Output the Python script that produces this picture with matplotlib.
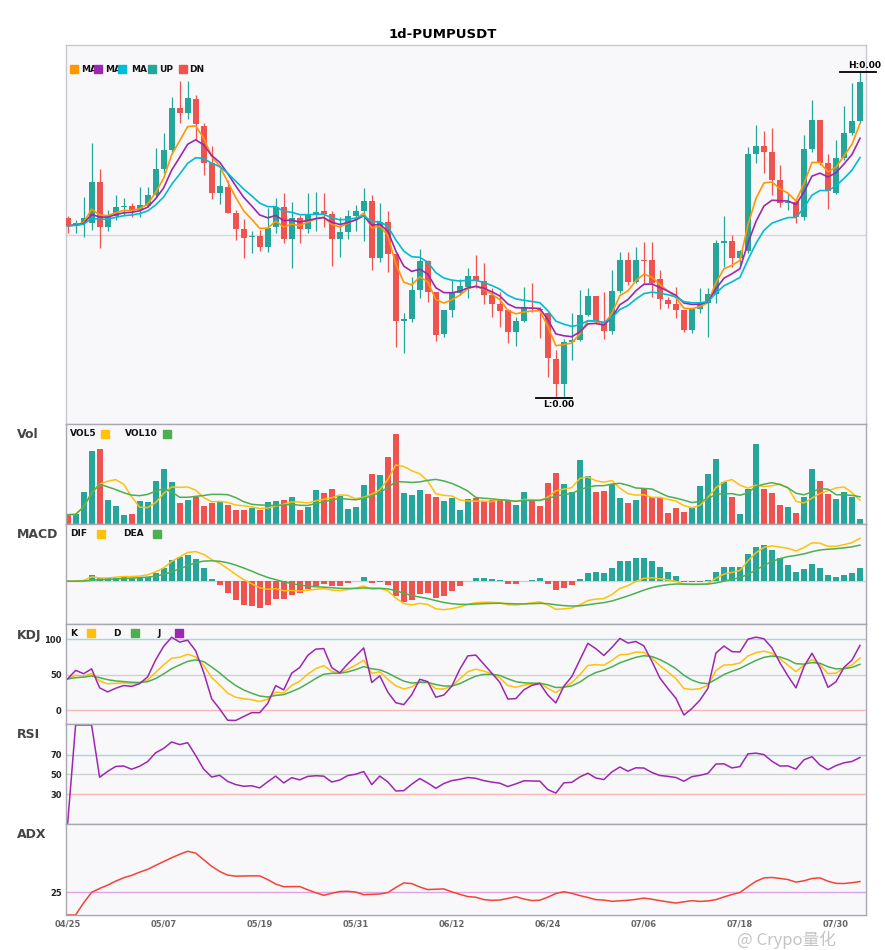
import numpy as np
import pandas as pd
import matplotlib
matplotlib.use("Agg")
import matplotlib.pyplot as plt
from matplotlib.patches import Rectangle

# ---------------- data ----------------
dates = pd.date_range("2025-04-25", periods=100, freq="D")

open_ = [0.003173, 0.003093, 0.003117, 0.003123, 0.003530, 0.003083, 0.003193, 0.003283, 0.003290, 0.003250,
         0.003293, 0.003400, 0.003660, 0.003850, 0.004270, 0.004223, 0.004360, 0.004090, 0.003717, 0.003423,
         0.003483, 0.003223, 0.003060, 0.002977, 0.002990, 0.002883, 0.003083, 0.003277, 0.002963, 0.003167,
         0.003063, 0.003207, 0.003237, 0.003210, 0.002963, 0.003030, 0.003190, 0.003240, 0.003340, 0.002773,
         0.003127, 0.002813, 0.002143, 0.002163, 0.002450, 0.002740, 0.002433, 0.002010, 0.002250, 0.002417,
         0.002483, 0.002590, 0.002540, 0.002400, 0.002310, 0.002250, 0.002033, 0.002143, 0.002267, 0.002260,
         0.002217, 0.001760, 0.001510, 0.001930, 0.001950, 0.002200, 0.002390, 0.002133, 0.002043, 0.002440,
         0.002750, 0.002533, 0.002750, 0.002750, 0.002557, 0.002350, 0.002310, 0.002250, 0.002050, 0.002257,
         0.002317, 0.002407, 0.002923, 0.002937, 0.002767, 0.002840, 0.003810, 0.003893, 0.003833, 0.003550,
         0.003323, 0.003333, 0.003183, 0.003860, 0.004150, 0.003723, 0.003423, 0.003773, 0.004017, 0.004140]

high = [0.003190, 0.003150, 0.003383, 0.003923, 0.003660, 0.003250, 0.003400, 0.003367, 0.003317, 0.003483,
        0.003483, 0.003873, 0.004017, 0.004383, 0.004543, 0.004543, 0.004400, 0.004123, 0.003890, 0.003657,
        0.003550, 0.003250, 0.003160, 0.003040, 0.003050, 0.003273, 0.003370, 0.003417, 0.003330, 0.003200,
        0.003417, 0.003427, 0.003417, 0.003243, 0.003183, 0.003250, 0.003300, 0.003467, 0.003400, 0.003317,
        0.003240, 0.002813, 0.002217, 0.002577, 0.002860, 0.002750, 0.002433, 0.002250, 0.002557, 0.002557,
        0.002667, 0.002800, 0.002717, 0.002467, 0.002433, 0.002257, 0.002183, 0.002483, 0.002517, 0.002277,
        0.002233, 0.001850, 0.001960, 0.002217, 0.002450, 0.002467, 0.002390, 0.002433, 0.002650, 0.002833,
        0.002833, 0.002883, 0.002933, 0.002933, 0.002650, 0.002383, 0.002483, 0.002250, 0.002257, 0.002467,
        0.002467, 0.002950, 0.003190, 0.003000, 0.002850, 0.003883, 0.004100, 0.004043, 0.004067, 0.003700,
        0.003417, 0.003350, 0.004000, 0.004350, 0.004150, 0.003810, 0.003950, 0.004290, 0.004523, 0.004633]

low = [0.003017, 0.003023, 0.002983, 0.003050, 0.002873, 0.003043, 0.003150, 0.003200, 0.003183, 0.003183,
       0.003283, 0.003383, 0.003617, 0.003817, 0.004117, 0.004157, 0.003950, 0.003600, 0.003357, 0.003310,
       0.003217, 0.002950, 0.002773, 0.002823, 0.002843, 0.002833, 0.003023, 0.002923, 0.002673, 0.002923,
       0.003017, 0.003043, 0.003083, 0.002693, 0.002783, 0.002963, 0.003043, 0.002940, 0.002650, 0.002733,
       0.002627, 0.001883, 0.001817, 0.002133, 0.002373, 0.002333, 0.001943, 0.001983, 0.002177, 0.002400,
       0.002367, 0.002467, 0.002310, 0.002183, 0.002083, 0.001923, 0.001893, 0.002133, 0.002233, 0.001967,
       0.001577, 0.001367, 0.001367, 0.001750, 0.001943, 0.002190, 0.002110, 0.001957, 0.002010, 0.002417,
       0.002500, 0.002517, 0.002517, 0.002383, 0.002257, 0.002267, 0.002167, 0.002030, 0.002017, 0.002217,
       0.001983, 0.002317, 0.002683, 0.002683, 0.002700, 0.002817, 0.003717, 0.003617, 0.003400, 0.003283,
       0.003250, 0.003117, 0.003150, 0.003833, 0.003700, 0.003257, 0.003410, 0.003750, 0.004000, 0.004120]

close = [0.003093, 0.003120, 0.003167, 0.003530, 0.003083, 0.003183, 0.003280, 0.003290, 0.003243, 0.003300,
         0.003400, 0.003660, 0.003850, 0.004270, 0.004223, 0.004367, 0.004107, 0.003723, 0.003423, 0.003490,
         0.003223, 0.003063, 0.002973, 0.002990, 0.002883, 0.003073, 0.003277, 0.002963, 0.003167, 0.003063,
         0.003200, 0.003227, 0.003210, 0.002963, 0.003030, 0.003190, 0.003240, 0.003340, 0.002773, 0.003127,
         0.002813, 0.002143, 0.002157, 0.002450, 0.002740, 0.002433, 0.002000, 0.002250, 0.002417, 0.002490,
         0.002590, 0.002540, 0.002400, 0.002310, 0.002243, 0.002033, 0.002140, 0.002267, 0.002260, 0.002250,
         0.001767, 0.001510, 0.001927, 0.001950, 0.002200, 0.002390, 0.002133, 0.002043, 0.002440, 0.002750,
         0.002533, 0.002750, 0.002737, 0.002517, 0.002357, 0.002310, 0.002250, 0.002050, 0.002257, 0.002317,
         0.002407, 0.002923, 0.002937, 0.002767, 0.002843, 0.003810, 0.003893, 0.003833, 0.003550, 0.003323,
         0.003333, 0.003183, 0.003860, 0.004150, 0.003723, 0.003443, 0.003773, 0.004017, 0.004140, 0.004530]

volume_m = [9.3, 10, 31.7, 73, 75, 24, 18, 9, 10, 23,
            22, 43, 55, 42, 21, 24, 27, 18, 21, 23,
            19, 14, 14, 16, 14, 22, 23, 24, 27, 14,
            17, 34, 31, 35, 28, 15, 17, 39, 50, 49,
            67, 90, 31, 29, 34, 30, 27, 23, 26, 14,
            25, 26, 23, 24, 24, 23, 19, 32, 24, 18,
            41, 51, 40, 32, 64, 48, 32, 33, 40, 26,
            21, 24, 35, 27, 26, 11, 16, 12, 16, 38,
            50, 65, 42, 27, 10, 35, 80, 35, 31, 19,
            17, 11, 27, 55, 43, 30, 25, 32, 27, 5]

tick_idx = [0, 12, 24, 36, 48, 60, 72, 84, 96]
ref_price = 0.003          # grey reference line on the price panel
symbol = "1d-PUMPUSDT"

# ---------------- indicators ----------------
o = pd.Series(open_); h = pd.Series(high); l = pd.Series(low); c = pd.Series(close)
v = pd.Series(volume_m)
n = len(c)
x = np.arange(n)

ma_a = c.ewm(span=5, adjust=False).mean()
ma_b = c.ewm(span=8, adjust=False).mean()
ma_c = c.ewm(span=13, adjust=False).mean()
vol5 = v.rolling(5, min_periods=1).mean()
vol10 = v.rolling(10, min_periods=1).mean()

dif = c.ewm(span=12, adjust=False).mean() - c.ewm(span=26, adjust=False).mean()
dea = dif.ewm(span=9, adjust=False).mean()
hist = 2 * (dif - dea)

llv = l.rolling(9, min_periods=1).min()
hhv = h.rolling(9, min_periods=1).max()
rsv = (c - llv) / (hhv - llv) * 100
k = rsv.ewm(alpha=1/3, adjust=False).mean()
d = k.ewm(alpha=1/3, adjust=False).mean()
j = 3 * k - 2 * d

delta = c.diff().fillna(0)
g = delta.clip(lower=0).ewm(com=13, adjust=True).mean()
ls = (-delta.clip(upper=0)).ewm(com=13, adjust=True).mean()
rsi = (100 * g / (g + ls)).fillna(0)

upm = h.diff(); dnm = -l.diff()
pdm = pd.Series(np.where((upm > dnm) & (upm > 0), upm, 0.0))
mdm = pd.Series(np.where((dnm > upm) & (dnm > 0), dnm, 0.0))
pc = c.shift(1)
tr = pd.concat([h - l, (h - pc).abs(), (l - pc).abs()], axis=1).max(axis=1)
atr = tr.ewm(span=14, adjust=False).mean()
pdi = 100 * pdm.ewm(span=14, adjust=False).mean() / atr
mdi = 100 * mdm.ewm(span=14, adjust=False).mean() / atr
dx = (100 * (pdi - mdi).abs() / (pdi + mdi)).fillna(0)
adx = dx.ewm(span=14, adjust=False).mean()

# ---------------- styling ----------------
UP = "#26a69a"; DN = "#ef5350"
C_MA1 = "#ff9800"; C_MA2 = "#9c27b0"; C_MA3 = "#00bcd4"
YEL = "#ffc107"; GRN = "#4caf50"; PUR = "#9c27b0"
BG = "#f8f8fb"
W, H = 885, 950
fig = plt.figure(figsize=(W / 100, H / 100), dpi=100)

def fx(px): return px / W
def fy(py): return 1 - py / H

LEFT, RIGHT = 66, 866
def add_ax(top, bottom):
    ax = fig.add_axes([fx(LEFT), fy(bottom), (RIGHT - LEFT) / W, (bottom - top) / H])
    ax.set_facecolor(BG)
    for s in ax.spines.values():
        s.set_color("#a8a8b0"); s.set_linewidth(1)
    ax.set_xlim(-0.2, 99.75)
    ax.tick_params(length=0, labelsize=6, pad=3)
    ax.set_xticks([])
    ax.set_yticks([])
    return ax

ax0 = add_ax(44.5, 424)
ax1 = add_ax(424, 524)
ax2 = add_ax(524, 624)
ax3 = add_ax(624, 724)
ax4 = add_ax(724, 824)
ax5 = add_ax(824, 915)
for s in ax0.spines.values():
    s.set_color("#c8c8d0")

colors = [UP if cc >= oo else DN for oo, cc in zip(open_, close)]

# price panel
ax0.axhline(ref_price, color="#d8d8d8", lw=1, zorder=0)
ax0.vlines(x, low, high, colors=colors, lw=0.9, zorder=2)
body_lo = np.minimum(o, c)
body_h = np.maximum((c - o).abs(), 0.000009)
ax0.bar(x, body_h, bottom=body_lo, width=0.75, color=colors, zorder=3)
ax0.plot(x, ma_a, color=C_MA1, lw=1.2, zorder=4)
ax0.plot(x, ma_b, color=C_MA2, lw=1.2, zorder=4)
ax0.plot(x, ma_c, color=C_MA3, lw=1.2, zorder=4)
ax0.set_ylim(0.00111, 0.00111 + 0.003795)

ih = int(np.argmax(high)); il = int(np.argmin(low))
ax0.plot([ih - 2.5, ih + 2], [high[ih], high[ih]], color="black", lw=1.3, clip_on=False, zorder=5)
ax0.text(ih + 0.6, high[ih] + 0.00002, f"H:{high[ih]:.2f}", ha="center", va="bottom", fontsize=6.5,
         fontweight="bold", clip_on=False)
ax0.plot([il - 2.5, il + 2], [low[il], low[il]], color="black", lw=1.3, clip_on=False, zorder=5)
ax0.text(il + 0.4, low[il] - 0.00002, f"L:{low[il]:.2f}", ha="center", va="top", fontsize=6.5,
         fontweight="bold", clip_on=False)

# volume panel
ax1.bar(x, volume_m, width=0.75, color=colors, zorder=2)
ax1.plot(x, vol5, color=YEL, lw=1.1, zorder=3)
ax1.plot(x, vol10, color=GRN, lw=1.1, zorder=3)
ax1.set_ylim(0, max(volume_m) * 1.11)

# MACD panel
hcol = [UP if hv >= 0 else DN for hv in hist]
ax2.axhline(0, color="#d0d0d0", lw=1, zorder=0)
ax2.bar(x, hist, width=0.75, color=hcol, zorder=2)
ax2.plot(x, dif, color=YEL, lw=1.1, zorder=3)
ax2.plot(x, dea, color=GRN, lw=1.1, zorder=3)
lo = min(dif.min(), dea.min(), hist.min()); hi = max(dif.max(), dea.max(), hist.max())
rng = hi - lo
ax2.set_ylim(lo - 0.2 * rng, hi + 0.2 * rng)

# KDJ panel
ax3.axhline(100, color="#a5d8d3", lw=1, zorder=0)
ax3.axhline(50, color="#d0d0d0", lw=1, zorder=0)
ax3.axhline(0, color="#f7b7b7", lw=1, zorder=0)
ax3.plot(x, k, color=YEL, lw=1.1)
ax3.plot(x, d, color=GRN, lw=1.1)
ax3.plot(x, j, color=PUR, lw=1.1)
ax3.set_ylim(-19.6, 121.4)
ax3.set_yticks([0, 50, 100])

# RSI panel
ax4.axhline(70, color="#a5d8d3", lw=1, zorder=0)
ax4.axhline(50, color="#d0d0d0", lw=1, zorder=0)
ax4.axhline(30, color="#f7b7b7", lw=1, zorder=0)
ax4.plot(x, rsi, color=PUR, lw=1.1)
ax4.set_ylim(0, 101)
ax4.set_yticks([30, 50, 70])

# ADX panel
ax5.axhline(25, color="#dda6e3", lw=1, zorder=0)
ax5.plot(x, adx, color="#f44336", lw=1.1)
ax5.set_ylim(0, 100)
ax5.set_yticks([25])
ax5.set_xticks(tick_idx)
ax5.set_xticklabels([dates[i].strftime("%m/%d") for i in tick_idx])

for ax in (ax3, ax4, ax5):
    for t in ax.get_yticklabels():
        t.set_fontweight("bold"); t.set_color("#222222")
for t in ax5.get_xticklabels():
    t.set_fontweight("bold"); t.set_color("#666666")

# ---------------- texts / legends ----------------
fig.text(0.5, fy(34), symbol, ha="center", va="center", fontsize=9.5, fontweight="bold")

for lab, yy in [("Vol", 435), ("MACD", 535), ("KDJ", 635), ("RSI", 735), ("ADX", 835)]:
    fig.text(fx(17), fy(yy), lab, ha="left", va="center", fontsize=9, fontweight="bold", color="#444444")

def legend_items(items, yc):
    for kind, xx, val in items:
        if kind == "t":
            fig.text(fx(xx), fy(yc), val, ha="left", va="center", fontsize=6.5, fontweight="bold",
                     color="#111111", zorder=5)
        else:
            fig.add_artist(Rectangle((fx(xx), fy(yc + 3.8)), 7.5 / W, 7.5 / H, transform=fig.transFigure,
                                     color=val, zorder=6))

legend_items([("s", 70, C_MA1), ("t", 81, "MA"), ("s", 94, C_MA2), ("t", 105, "MA"),
              ("s", 118, C_MA3), ("t", 131, "MA"), ("s", 148, UP), ("t", 159, "UP"),
              ("s", 179, DN), ("t", 189, "DN")], 69)
legend_items([("t", 70, "VOL5"), ("s", 101, YEL), ("t", 125, "VOL10"), ("s", 163, GRN)], 434)
legend_items([("t", 70, "DIF"), ("s", 97, YEL), ("t", 123, "DEA"), ("s", 153, GRN)], 534)
legend_items([("t", 70, "K"), ("s", 87, YEL), ("t", 113, "D"), ("s", 131, GRN),
              ("t", 157, "J"), ("s", 175, PUR)], 633)

fig.text(fx(737), fy(949), "@ Crypo量化", ha="left", va="bottom", fontsize=12, color="#b5b5b5",
         alpha=0.8, family=["Noto Sans CJK SC", "DejaVu Sans"])

fig.savefig("out.png", dpi=100, facecolor="white")
